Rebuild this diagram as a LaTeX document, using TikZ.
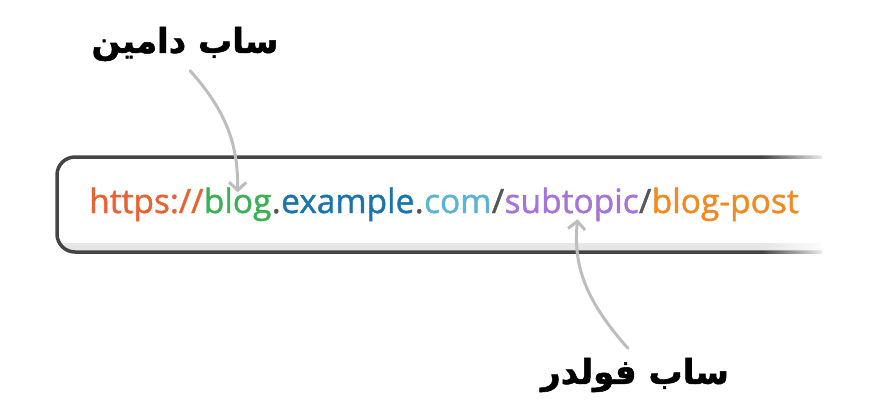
\documentclass[tikz,border=0pt]{standalone}
\usepackage{fontspec}
\usetikzlibrary{arrows.meta,fadings,positioning}
\TeXXeTstate=1
\newfontfamily\urlfont[FakeBold=1.3]{Open Sans}
\newfontfamily\arabicfont[Script=Arabic,FakeBold=1.5]{DejaVu Sans}
\definecolor{urlorange}{HTML}{EB6232}
\definecolor{urlgreen}{HTML}{3CB054}
\definecolor{urlgray}{HTML}{555555}
\definecolor{urlblue}{HTML}{1A75AE}
\definecolor{urlsky}{HTML}{5BB3D6}
\definecolor{urlpurple}{HTML}{A673D9}
\definecolor{urlamber}{HTML}{F28A1F}
\definecolor{barline}{HTML}{444444}
\definecolor{barband}{HTML}{E6E6E6}
\definecolor{pointgray}{HTML}{BDBDBD}

\begin{document}
\begin{tikzpicture}[x=1pt,y=-1pt]

        \tikzset{
            urltext/.style={inner sep=0pt, anchor=base west,
              font=\urlfont\fontsize{33.5}{34}\selectfont},
            label/.style={font=\arabicfont\bfseries\fontsize{34}{38}\selectfont},
            pointer/.style={draw=pointgray, line width=3pt, line cap=round,
              -{Straight Barb[length=8pt,width=17pt]}}
        }

        \useasboundingbox (0,0) rectangle (882,416);

        % the address bar, open on the right
        \begin{scope}
            \clip[rounded corners=18pt] (830,157) -- (57,157) -- (57,252) -- (830,252) -- cycle;
            \fill[barband] (50,243) rectangle (830,252);
        \end{scope}
        \draw[barline, line width=3.5pt, rounded corners=18pt]
            (822,157) -- (57,157) -- (57,252) -- (822,252);
        \fill[white, path fading=west] (762,150) rectangle (830,260);
        \fill[white] (822,150) rectangle (882,260);

        \begin{scope}
            \node[urltext, text=urlorange] (scheme) at (89,213) {https://};
            \node[urltext, text=urlgreen] (sub) at (scheme.base east) {blog};
            \node[urltext, text=urlgray] (dot1) at (sub.base east) {.};
            \node[urltext, text=urlblue] (dom) at (dot1.base east) {example};
            \node[urltext, text=urlgray] (dot2) at (dom.base east) {.};
            \node[urltext, text=urlsky] (tld) at (dot2.base east) {com};
            \node[urltext, text=urlgray] (sl1) at (tld.base east) {/};
            \node[urltext, text=urlpurple] (folder) at (sl1.base east) {subtopic};
            \node[urltext, text=urlgray] (sl2) at (folder.base east) {/};
            \node[urltext, text=urlamber] (post) at (sl2.base east) {blog-post};
        \end{scope}

        \node[label] (SD) at (185,44) {\beginR ساب دامین\endR};
        \node[label] (SF) at (635,375) {\beginR ساب فولدر\endR};

        \begin{scope}
            \draw[pointer] ([xshift=5pt,yshift=-6pt]SD.south)
                .. controls (230,115) and (238,150) .. ([yshift=-5pt]sub.north);
            \draw[pointer] ([xshift=-7pt,yshift=6pt]SF.north)
                .. controls (585,300) and (573,265) .. ([xshift=6pt,yshift=2pt]folder.south);
        \end{scope}

        \end{tikzpicture}
\end{document}
